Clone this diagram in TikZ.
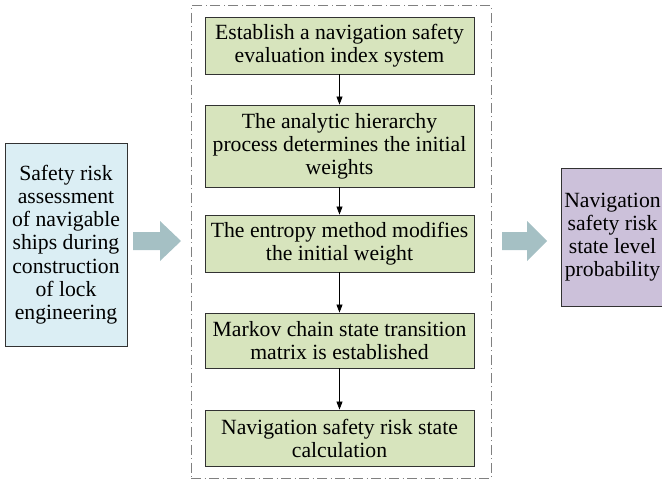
\documentclass[tikz,border=0pt]{standalone}
\usepackage{fontspec}
\setmainfont{Liberation Serif}
\usetikzlibrary{arrows.meta}
\definecolor{leftfill}{RGB}{219,238,244}
\definecolor{greenfill}{RGB}{215,228,189}
\definecolor{purplefill}{RGB}{204,193,218}
\definecolor{fatarrow}{RGB}{165,192,196}
\definecolor{framegray}{RGB}{128,128,128}
\definecolor{edgegray}{RGB}{50,50,50}
\tikzset{
  stepbox/.style={draw=edgegray, line width=0.9pt, fill=greenfill, minimum width=269pt, align=center, inner sep=1pt, font=\fontsize{21.7}{23}\selectfont},
  sidebox/.style={draw=edgegray, line width=0.9pt, align=center, inner sep=1pt, font=\fontsize{21.7}{23.2}\selectfont},
  flow/.style={-{Triangle[length=8pt,width=6pt]}, line width=0.8pt, black},
  fat/.style={fill=fatarrow, draw=none},
}
\begin{document}
\begin{tikzpicture}[x=1pt,y=-1pt]
\useasboundingbox (0,0) rectangle (662,482);
\begin{scope}
\clip (0,0) rectangle (662,482);
% dashed frame
\node[draw=framegray, line width=0.9pt, dash pattern=on 10pt off 3.5pt on 1pt off 3.5pt, minimum width=300pt, minimum height=473pt, inner sep=0pt] (frame) at (341,242) {};
% steps
\node[stepbox, minimum height=57pt] (s1) at (339.5,45.5) {Establish a navigation safety\\evaluation index system};
\node[stepbox, minimum height=82pt] (s2) at (339.5,146) {The analytic hierarchy\\process determines the initial\\weights};
\node[stepbox, minimum height=57pt] (s3) at (339.5,243.5) {The entropy method modifies\\the initial weight};
\node[stepbox, minimum height=55pt] (s4) at (339.5,340.5) {Markov chain state transition\\matrix is established};
\node[stepbox, minimum height=56pt] (s5) at (339.5,438) {Navigation safety risk state\\calculation};
\draw[flow] (s1) -- (s2);
\draw[flow] (s2) -- (s3);
\draw[flow] (s3) -- (s4);
\draw[flow] (s4) -- (s5);
% side boxes
\node[sidebox, fill=leftfill, minimum width=122pt, minimum height=203pt] (left) at (66,244.5) {Safety risk\\assessment\\of navigable\\ships during\\construction\\of lock\\engineering};
\node[sidebox, fill=purplefill, minimum width=103pt, minimum height=138pt, inner sep=0pt] (right) at (612.5,237) {Navigation\\safety risk\\state level\\probability};
% fat arrows
\coordinate (la) at (133,241);
\coordinate (ra) at (502,241);
\fill[fat] (la) ++(0,-9) -- ++(27,0) -- ++(0,-11) -- ++(21,20) -- ++(-21,20) -- ++(0,-11) -- ++(-27,0) -- cycle;
\fill[fat] (ra) ++(0,-9) -- ++(25,0) -- ++(0,-11) -- ++(20,20) -- ++(-20,20) -- ++(0,-11) -- ++(-25,0) -- cycle;
\end{scope}
\end{tikzpicture}
\end{document}
